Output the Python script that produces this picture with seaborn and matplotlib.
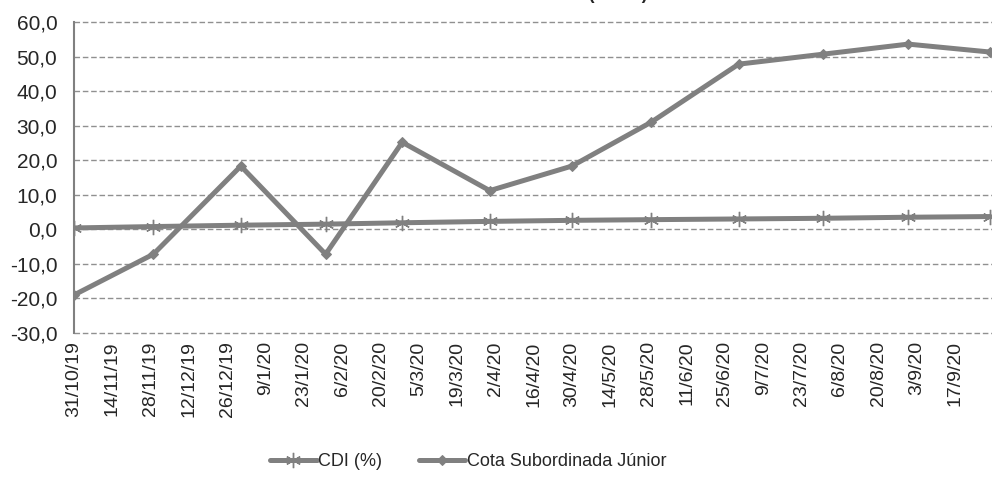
import pandas as pd
import matplotlib.pyplot as plt
import matplotlib.ticker as mticker
import seaborn as sns

# Month-end dates and accumulated returns (%)
dates = ['2019-10-31', '2019-11-29', '2019-12-31', '2020-01-31', '2020-02-28', '2020-03-31',
         '2020-04-30', '2020-05-29', '2020-06-30', '2020-07-31', '2020-08-31', '2020-09-30']
cdi = [0.4, 0.8, 1.2, 1.5, 1.9, 2.3, 2.6, 2.8, 3.0, 3.2, 3.5, 3.7]
cota_sub = [-19.0, -7.2, 18.3, -7.2, 25.2, 11.2, 18.3, 31.0, 47.8, 50.7, 53.6, 51.3]

title = 'Rentabilidade Acumulada (em %)'
series_names = ['CDI (%)', 'Cota Subordinada Júnior']

df = pd.DataFrame({'data': pd.to_datetime(dates), 'cdi': cdi, 'cota': cota_sub})

sns.set_style('white')
plt.rcParams['font.family'] = ['Liberation Sans', 'DejaVu Sans']

fig = plt.figure(figsize=(9.92, 4.78), dpi=100)
ax = fig.add_axes([74 / 992, 1 - 333 / 478, 919 / 992, 311 / 478])

grey = '#808080'
sns.lineplot(data=df, x='data', y='cdi', ax=ax, color=grey, linewidth=3.6,
             marker=(6, 2, 0), markersize=11, markeredgewidth=1.0,
             markeredgecolor=grey, label=series_names[0])
sns.lineplot(data=df, x='data', y='cota', ax=ax, color=grey, linewidth=3.6,
             marker='D', markersize=5, markeredgecolor=grey, label=series_names[1])

# axes ranges and ticks
ax.set_ylim(-30, 60)
ax.set_yticks(range(-30, 61, 10))
ax.yaxis.set_major_formatter(mticker.FuncFormatter(lambda v, p: f'{v:.1f}'.replace('.', ',')))
ax.set_xlim(pd.Timestamp('2019-10-31'), pd.Timestamp('2020-10-01'))
tick_dates = pd.date_range('2019-10-31', '2020-09-17', freq='14D')
ax.set_xticks(tick_dates)
ax.set_xticklabels([f'{d.day}/{d.month}/{d.strftime("%y")}' for d in tick_dates],
                   rotation=90)
ax.tick_params(axis='x', labelsize=14, length=0, pad=6)
ax.tick_params(axis='y', labelsize=15, length=0, pad=12)
ax.set_xlabel('')
ax.set_ylabel('')

ax.grid(axis='y', color='#909090', linestyle=(0, (4, 2)), linewidth=1.0)
ax.grid(axis='x', visible=False)
for gl in ax.get_ygridlines():
    gl.set_clip_on(False)
for side in ['top', 'right', 'bottom']:
    ax.spines[side].set_visible(False)
ax.spines['left'].set_color(grey)
ax.spines['left'].set_linewidth(1.5)

fig.text(0.51, 1.012, title, ha='center', va='center', fontsize=13, fontweight='bold')

handles, labels = ax.get_legend_handles_labels()
ax.get_legend().remove()
fig.legend(handles, labels, loc='center', bbox_to_anchor=(0.472, 0.034), ncol=2,
           frameon=False, fontsize=13, handlelength=2.6, handletextpad=0.1,
           columnspacing=2.0)

plt.savefig('out.png', dpi=100)
